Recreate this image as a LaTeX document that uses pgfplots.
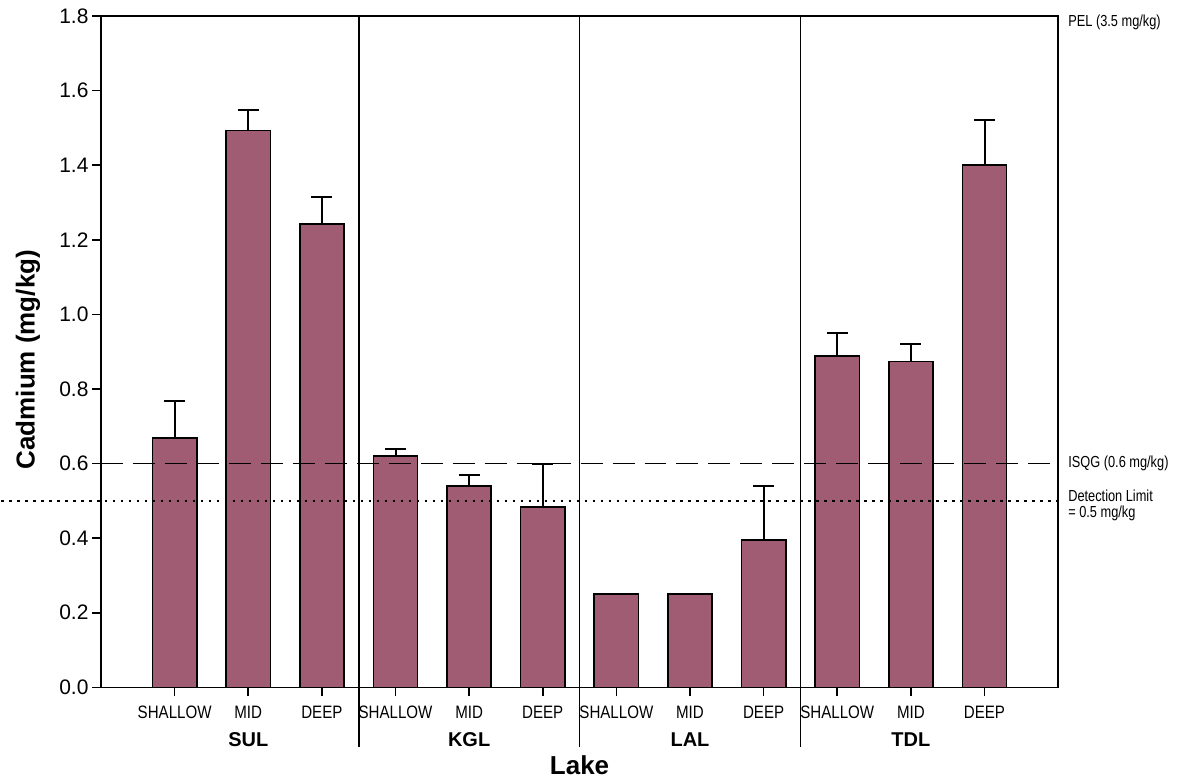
\documentclass[border=0pt]{standalone}
\usepackage{graphicx}
\usepackage{pgfplots}
\pgfplotsset{compat=1.18}
\usepackage{pgfplotstable}
\usepackage{fontspec}
\setmainfont{Liberation Sans}
\definecolor{barc}{RGB}{159,92,114}
\newcommand{\nar}[1]{\scalebox{0.84}[1]{#1}}
\newcommand{\nr}[1]{\scalebox{0.8}[1]{#1}}
\pgfplotstableread{
x y e
0 0.669 0.100
1 1.493 0.055
2 1.242 0.073
3 0.620 0.018
4 0.540 0.030
5 0.483 0.117
8 0.395 0.145
9 0.889 0.060
10 0.874 0.046
11 1.400 0.120
}\witherr
\pgfplotstableread{
x y
6 0.25
7 0.25
}\noerr
\begin{document}
\begin{tikzpicture}
\begin{axis}[name=ax, scale only axis, width=958pt, height=672pt,
  xmin=-1, xmax=12, ymin=0, ymax=1.8,
  ytick={0,0.2,0.4,0.6,0.8,1.0,1.2,1.4,1.6,1.8},
  yticklabel style={/pgf/number format/fixed, /pgf/number format/fixed zerofill, /pgf/number format/precision=1, /pgf/number format/assume math mode=true, font=\fontsize{21}{24}\selectfont},
  xtick={0,...,11},
  xticklabels={\nar{SHALLOW},\nar{MID},\nar{DEEP},\nar{SHALLOW},\nar{MID},\nar{DEEP},\nar{SHALLOW},\nar{MID},\nar{DEEP},\nar{SHALLOW},\nar{MID},\nar{DEEP}},
  xticklabel style={font=\fontsize{18}{20}\selectfont, yshift=-6pt},
  axis line style={line width=1.6pt},
  tick style={line width=1.6pt, black},
  tick align=outside, major tick length=9pt,
  xtick pos=bottom, ytick pos=left,
  clip=false, ybar, bar width=0.6, bar shift=0pt]
\addplot[fill=barc, draw=black, line width=1.6pt,
  error bars/.cd, y dir=plus, y explicit,
  error bar style={line width=2pt, black, solid},
  error mark options={rotate=90, mark size=10.5pt, line width=2pt, black}]
  table[x=x, y=y, y error=e] {\witherr};
\addplot[fill=barc, draw=black, line width=1.6pt] table[x=x, y=y] {\noerr};
\draw[line width=1pt, dash pattern=on 22pt off 10pt] (axis cs:-1,0.6) -- (axis cs:12,0.6);
\draw[line width=2.2pt, dash pattern=on 2.5pt off 5.5pt] ([xshift=-100pt]axis cs:-1,0.5) -- (axis cs:12,0.5);
\draw[line width=1.8pt] (axis cs:2.5,1.8) -- ([yshift=-60pt]axis cs:2.5,0);
\draw[line width=1.8pt] (axis cs:5.5,1.8) -- ([yshift=-60pt]axis cs:5.5,0);
\draw[line width=1.8pt] (axis cs:8.5,1.8) -- ([yshift=-60pt]axis cs:8.5,0);
\node[font=\bfseries\fontsize{20}{22}\selectfont] at ([yshift=-52pt]axis cs:1,0) {SUL};
\node[font=\bfseries\fontsize{20}{22}\selectfont] at ([yshift=-52pt]axis cs:4,0) {KGL};
\node[font=\bfseries\fontsize{20}{22}\selectfont] at ([yshift=-52pt]axis cs:7,0) {LAL};
\node[font=\bfseries\fontsize{20}{22}\selectfont] at ([yshift=-52pt]axis cs:10,0) {TDL};
\node[font=\bfseries\fontsize{26}{28}\selectfont] at ([yshift=-78pt]axis cs:5.5,0) {Lake};
\node[font=\bfseries\fontsize{26}{28}\selectfont, rotate=90] at ([xshift=-73pt, yshift=-8pt]rel axis cs:0,0.5) {Cadmium (mg/kg)};
\node[font=\fontsize{16}{18}\selectfont, anchor=west, inner sep=0pt] at ([xshift=10pt, yshift=-6pt]axis cs:12,1.8) {\nr{PEL (3.5 mg/kg)}};
\node[font=\fontsize{16}{18}\selectfont, anchor=west, inner sep=0pt] at ([xshift=10pt]axis cs:12,0.6) {\nr{ISQG (0.6 mg/kg)}};
\node[font=\fontsize{16}{16}\selectfont, anchor=north west, inner sep=0pt, align=left] at ([xshift=10pt, yshift=11pt]axis cs:12,0.5) {\nr{Detection Limit}\\\nr{= 0.5 mg/kg}};
\end{axis}
\path ([xshift=-100pt, yshift=-93pt]ax.south west) rectangle ([xshift=120pt, yshift=16pt]ax.north east);
\end{tikzpicture}
\end{document}
